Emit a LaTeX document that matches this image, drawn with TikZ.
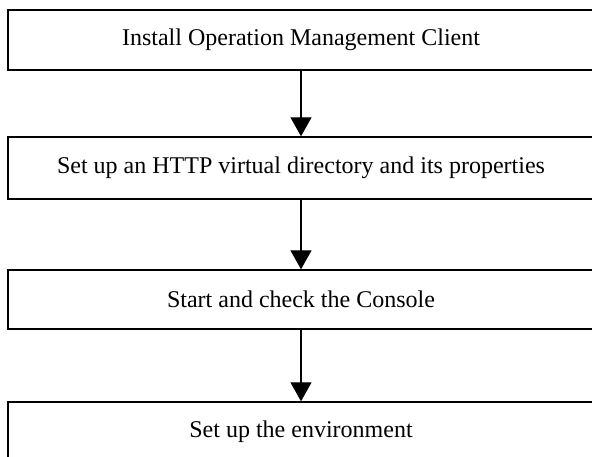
\documentclass[tikz,border=0pt]{standalone}
\usepackage{fontspec}
\setmainfont{Liberation Serif}
\usetikzlibrary{arrows.meta}
\begin{document}
\begin{tikzpicture}[x=1pt,y=-1pt,
  stepbox/.style={draw=black,line width=1.4pt,minimum width=586pt,minimum height=60pt,inner sep=0pt,font=\fontsize{24}{28}\selectfont,fill=white},
  flow/.style={line width=1.2pt,-{Triangle[width=21pt,length=19pt]}}]
\useasboundingbox (0,0) rectangle (592,457);
\clip (0,0) rectangle (592,457);
\node[stepbox,minimum height=60pt] (b1) at (301,40) {Install Operation Management Client};
\node[stepbox,minimum height=62pt] (b2) at (301,168) {Set up an HTTP virtual directory and its properties};
\node[stepbox,minimum height=59pt] (b3) at (301,299.5) {Start and check the Console};
\node[stepbox,minimum height=60pt] (b4) at (301,432) {Set up the environment};
\draw[flow] (b1.south) -- (b2.north);
\draw[flow] (b2.south) -- (b3.north);
\draw[flow] (b3.south) -- (b4.north);
\end{tikzpicture}
\end{document}
